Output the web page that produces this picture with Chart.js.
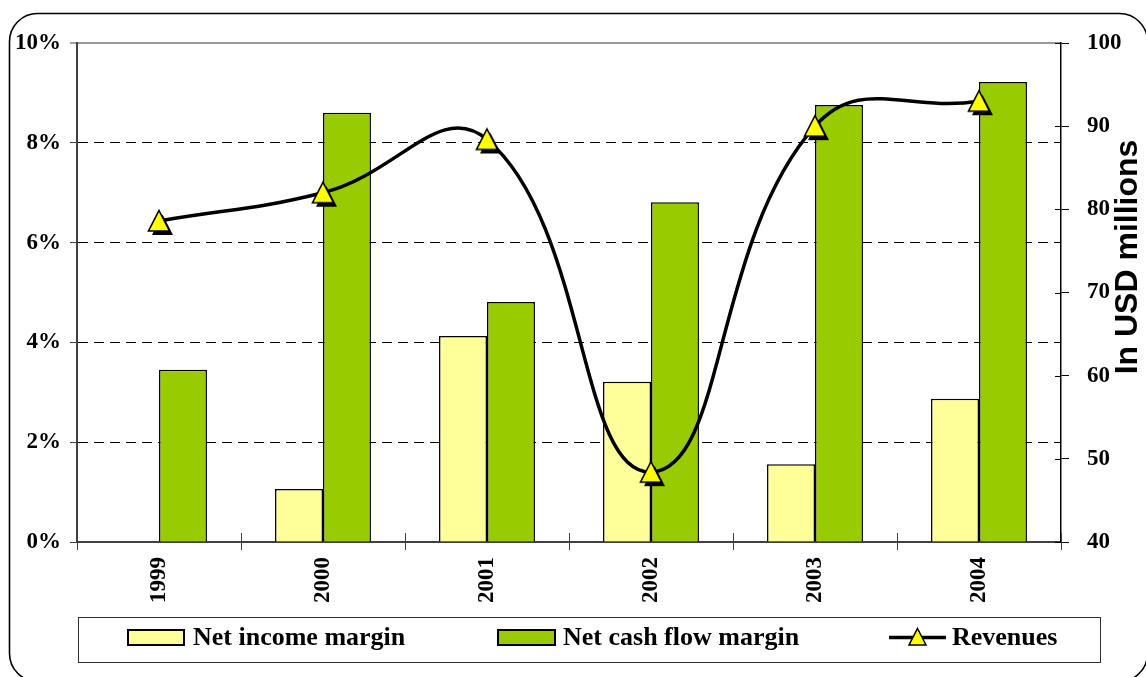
<!DOCTYPE html>
<html>
<head>
<meta charset="utf-8">
<script src="https://cdn.jsdelivr.net/npm/chart.js@4.4.1/dist/chart.umd.min.js"></script>
<style>
  html, body { margin: 0; padding: 0; background: #ffffff; }
  #wrap { position: relative; width: 1146px; height: 677px; }
</style>
</head>
<body>
<div id="wrap"><canvas id="c" width="1146" height="677"></canvas></div>
<script>
// ---- data ----
const years = ['1999', '2000', '2001', '2002', '2003', '2004'];
const netIncomeMargin = [null, 1.06, 4.13, 3.21, 1.56, 2.87];      // % (left axis)
const netCashFlowMargin = [3.45, 8.60, 4.81, 6.81, 8.76, 9.22];    // % (left axis)
const revenues = [78.6, 82.0, 88.4, 48.4, 90.0, 93.0];             // USD millions (right axis)
const leftTickValues = [0, 2, 4, 6, 8, 10];
const rightTickValues = [40, 50, 60, 70, 80, 90, 100];
const seriesNames = ['Net income margin', 'Net cash flow margin', 'Revenues'];
const rightAxisTitle = 'In USD millions';

const SERIF = '"Liberation Serif", "Times New Roman", serif';
const SANS = '"Liberation Sans", Arial, sans-serif';
const YELLOW = '#FFFF99';
const GREEN = '#99CC00';

function triangleCanvas() {
  const c = document.createElement('canvas');
  c.width = 40; c.height = 40;
  const g = c.getContext('2d');
  const cx = 20, cy = 20;
  const path = (dx, dy) => {
    g.beginPath();
    g.moveTo(cx + dx, cy - 10.5 + dy);
    g.lineTo(cx + 10.5 + dx, cy + 10 + dy);
    g.lineTo(cx - 10.5 + dx, cy + 10 + dy);
    g.closePath();
  };
  path(3.5, 4); g.fillStyle = '#000'; g.fill();
  path(0, 0); g.fillStyle = '#FFFF00'; g.fill();
  g.lineWidth = 1.6; g.strokeStyle = '#000'; g.lineJoin = 'miter'; g.stroke();
  return c;
}
const triImg = triangleCanvas();

const framePlugin = {
  id: 'frame',
  beforeDraw(chart) {
    const ctx = chart.ctx;
    ctx.save();
    ctx.fillStyle = '#fff';
    ctx.fillRect(0, 0, chart.width, chart.height);
    ctx.beginPath();
    ctx.roundRect(9.5, 13.5, 1138, 668, 28);
    ctx.lineWidth = 1.6;
    ctx.strokeStyle = '#000';
    ctx.stroke();
    ctx.restore();
  },
  afterDraw(chart) {
    const ctx = chart.ctx;
    const x = chart.scales.x, y1 = chart.scales.y1, y = chart.scales.y;
    ctx.save();
    // cross-through tick portions
    ctx.strokeStyle = '#404040'; ctx.lineWidth = 1;
    for (let i = 0; i <= years.length; i++) {
      const px = Math.round(x.getPixelForValue(i - 0.5)) + 0.5;
      ctx.beginPath(); ctx.moveTo(px, y.bottom); ctx.lineTo(px, y.bottom - 9); ctx.stroke();
    }
    ctx.strokeStyle = '#000';
    rightTickValues.forEach(v => {
      const py = Math.round(y1.getPixelForValue(v)) + 0.5;
      ctx.beginPath(); ctx.moveTo(y1.left, py); ctx.lineTo(y1.left - 6, py); ctx.stroke();
    });
    // right axis title
    ctx.translate(1128, 257);
    ctx.rotate(-Math.PI / 2);
    ctx.font = 'bold 32px ' + SANS;
    ctx.fillStyle = '#000';
    ctx.textAlign = 'center';
    ctx.textBaseline = 'middle';
    ctx.fillText(rightAxisTitle, 0, 0);
    ctx.restore();

    // legend
    ctx.save();
    ctx.strokeStyle = '#303030'; ctx.lineWidth = 1;
    ctx.strokeRect(78.5, 617.5, 1022, 45);
    const ly = 637.5;
    ctx.lineWidth = 2; ctx.strokeStyle = '#000';
    ctx.fillStyle = YELLOW; ctx.fillRect(128, 630, 56, 15); ctx.strokeRect(128, 630, 56, 15);
    ctx.fillStyle = GREEN; ctx.fillRect(498, 630, 57, 15); ctx.strokeRect(498, 630, 57, 15);
    ctx.lineWidth = 3.5;
    ctx.beginPath(); ctx.moveTo(889, ly); ctx.lineTo(946, ly); ctx.stroke();
    ctx.beginPath();
    ctx.moveTo(917.5, ly - 9); ctx.lineTo(926, ly + 7.5); ctx.lineTo(909, ly + 7.5); ctx.closePath();
    ctx.fillStyle = '#FFFF00'; ctx.fill(); ctx.lineWidth = 1.5; ctx.stroke();
    ctx.font = 'bold 26px ' + SERIF;
    ctx.fillStyle = '#000';
    ctx.textBaseline = 'middle';
    ctx.fillText(seriesNames[0], 193, ly + 1);
    ctx.fillText(seriesNames[1], 563, ly + 1);
    ctx.fillText(seriesNames[2], 952, ly + 1);
    ctx.restore();
  }
};

const chart = new Chart(document.getElementById('c'), {
  data: {
    labels: years,
    datasets: [
      {
        type: 'line', label: seriesNames[2], data: revenues, yAxisID: 'y1', order: 0,
        borderColor: '#000', borderWidth: 3.5, tension: 0.45, fill: false,
        pointStyle: triImg, pointRadius: 10, pointHoverRadius: 10
      },
      {
        type: 'bar', label: seriesNames[0], data: netIncomeMargin, yAxisID: 'y', order: 1,
        backgroundColor: YELLOW, borderColor: '#000', borderWidth: 1.5,
        categoryPercentage: 0.585, barPercentage: 1
      },
      {
        type: 'bar', label: seriesNames[1], data: netCashFlowMargin, yAxisID: 'y', order: 1,
        backgroundColor: GREEN, borderColor: '#000', borderWidth: 1.5,
        categoryPercentage: 0.585, barPercentage: 1
      }
    ]
  },
  options: {
    responsive: false,
    animation: false,
    devicePixelRatio: 1,
    layout: { padding: { top: 43, bottom: 60, left: 0, right: 0 } },
    plugins: { legend: { display: false }, tooltip: { enabled: false } },
    scales: {
      x: {
        type: 'category',
        offset: true,
        grid: { display: true, offset: true, drawOnChartArea: false, drawTicks: true, tickLength: 8, tickColor: '#404040', tickWidth: 1 },
        border: { display: true, color: '#404040', width: 2 },
        ticks: {
          minRotation: 90, maxRotation: 90, padding: 7, color: '#000',
          font: { family: SERIF, size: 23, weight: 'bold' }
        },
        afterFit(s) { s.height = 75; }
      },
      y: {
        position: 'left', min: 0, max: 10,
        afterBuildTicks(s) { s.ticks = leftTickValues.map(v => ({ value: v })); },
        grid: {
          drawTicks: true, tickLength: 7, tickColor: '#404040', tickWidth: 1, tickBorderDash: [],
          color: ctx => (ctx.tick && ctx.tick.value === 10) ? '#9a9a9a' : (ctx.tick && ctx.tick.value === 0 ? 'rgba(0,0,0,0)' : '#000'),
          lineWidth: ctx => (ctx.tick && ctx.tick.value === 10) ? 2 : 1
        },
        border: {
          display: true, color: '#404040', width: 2,
          dash: ctx => (ctx.tick && ctx.tick.value > 0 && ctx.tick.value < 10) ? [10, 6] : []
        },
        ticks: {
          padding: 9, color: '#000',
          font: { family: SERIF, size: 23, weight: 'bold' },
          callback: v => v + '%'
        },
        afterFit(s) { s.width = 77; }
      },
      y1: {
        position: 'right', min: 40, max: 100,
        afterBuildTicks(s) { s.ticks = rightTickValues.map(v => ({ value: v })); },
        grid: { drawOnChartArea: false, drawTicks: true, tickLength: 8, tickColor: '#000', tickWidth: 1 },
        border: { display: true, color: '#000', width: 1.5 },
        ticks: {
          padding: 18, color: '#000',
          font: { family: SERIF, size: 23, weight: 'bold' }
        },
        afterFit(s) { s.width = 85; }
      }
    }
  },
  plugins: [framePlugin]
});
</script>
</body>
</html>
